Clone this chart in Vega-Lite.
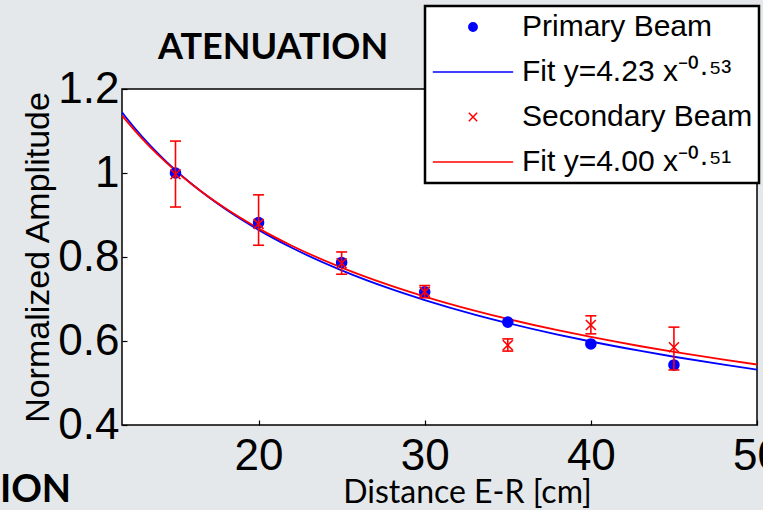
{
  "$schema": "https://vega.github.io/schema/vega-lite/v6.json",
  "width": 635,
  "height": 336,
  "autosize": {"type": "none"},
  "padding": {"left": 122, "top": 89, "right": 6, "bottom": 85},
  "background": "#e4e8ea",
  "title": {
    "text": "ATENUATION",
    "font": "Lato",
    "fontWeight": "bold",
    "fontSize": 36,
    "color": "black",
    "anchor": "start",
    "frame": "group",
    "dx": 36,
    "dy": 122,
    "baseline": "alphabetic",
    "offset": 32
  },
  "datasets": {
    "points": [
      {"series": "Primary Beam", "x": 15, "y": 1.0},
      {"series": "Primary Beam", "x": 20, "y": 0.882},
      {"series": "Primary Beam", "x": 25, "y": 0.787},
      {"series": "Primary Beam", "x": 30, "y": 0.717},
      {"series": "Primary Beam", "x": 35, "y": 0.645},
      {"series": "Primary Beam", "x": 40, "y": 0.593},
      {"series": "Primary Beam", "x": 45, "y": 0.543},
      {"series": "Secondary Beam", "x": 15, "y": 0.997, "lo": 0.919, "hi": 1.076},
      {"series": "Secondary Beam", "x": 20, "y": 0.879, "lo": 0.828, "hi": 0.948},
      {"series": "Secondary Beam", "x": 25, "y": 0.785, "lo": 0.759, "hi": 0.812},
      {"series": "Secondary Beam", "x": 30, "y": 0.717, "lo": 0.703, "hi": 0.732},
      {"series": "Secondary Beam", "x": 35, "y": 0.59, "lo": 0.576, "hi": 0.605},
      {"series": "Secondary Beam", "x": 40, "y": 0.638, "lo": 0.617, "hi": 0.66},
      {"series": "Secondary Beam", "x": 45, "y": 0.585, "lo": 0.531, "hi": 0.633}
    ],
    "curves": [
      {"series": "Fit y=4.23 x\u207B\u2070\u00B7\u2075\u00B3", "x": 11.78, "y": 1.1445},
      {"series": "Fit y=4.23 x\u207B\u2070\u00B7\u2075\u00B3", "x": 12, "y": 1.1334},
      {"series": "Fit y=4.23 x\u207B\u2070\u00B7\u2075\u00B3", "x": 13, "y": 1.0863},
      {"series": "Fit y=4.23 x\u207B\u2070\u00B7\u2075\u00B3", "x": 14, "y": 1.0445},
      {"series": "Fit y=4.23 x\u207B\u2070\u00B7\u2075\u00B3", "x": 15, "y": 1.0069},
      {"series": "Fit y=4.23 x\u207B\u2070\u00B7\u2075\u00B3", "x": 16, "y": 0.9731},
      {"series": "Fit y=4.23 x\u207B\u2070\u00B7\u2075\u00B3", "x": 18, "y": 0.9142},
      {"series": "Fit y=4.23 x\u207B\u2070\u00B7\u2075\u00B3", "x": 20, "y": 0.8646},
      {"series": "Fit y=4.23 x\u207B\u2070\u00B7\u2075\u00B3", "x": 22, "y": 0.822},
      {"series": "Fit y=4.23 x\u207B\u2070\u00B7\u2075\u00B3", "x": 25, "y": 0.7681},
      {"series": "Fit y=4.23 x\u207B\u2070\u00B7\u2075\u00B3", "x": 28, "y": 0.7233},
      {"series": "Fit y=4.23 x\u207B\u2070\u00B7\u2075\u00B3", "x": 30, "y": 0.6974},
      {"series": "Fit y=4.23 x\u207B\u2070\u00B7\u2075\u00B3", "x": 33, "y": 0.663},
      {"series": "Fit y=4.23 x\u207B\u2070\u00B7\u2075\u00B3", "x": 35, "y": 0.6427},
      {"series": "Fit y=4.23 x\u207B\u2070\u00B7\u2075\u00B3", "x": 38, "y": 0.6153},
      {"series": "Fit y=4.23 x\u207B\u2070\u00B7\u2075\u00B3", "x": 40, "y": 0.5988},
      {"series": "Fit y=4.23 x\u207B\u2070\u00B7\u2075\u00B3", "x": 43, "y": 0.5763},
      {"series": "Fit y=4.23 x\u207B\u2070\u00B7\u2075\u00B3", "x": 45, "y": 0.5625},
      {"series": "Fit y=4.23 x\u207B\u2070\u00B7\u2075\u00B3", "x": 48, "y": 0.5436},
      {"series": "Fit y=4.23 x\u207B\u2070\u00B7\u2075\u00B3", "x": 50, "y": 0.532},
      {"series": "Fit y=4.00 x\u207B\u2070\u00B7\u2075\u00B9", "x": 11.78, "y": 1.137},
      {"series": "Fit y=4.00 x\u207B\u2070\u00B7\u2075\u00B9", "x": 12, "y": 1.1264},
      {"series": "Fit y=4.00 x\u207B\u2070\u00B7\u2075\u00B9", "x": 13, "y": 1.0813},
      {"series": "Fit y=4.00 x\u207B\u2070\u00B7\u2075\u00B9", "x": 14, "y": 1.0412},
      {"series": "Fit y=4.00 x\u207B\u2070\u00B7\u2075\u00B9", "x": 15, "y": 1.0052},
      {"series": "Fit y=4.00 x\u207B\u2070\u00B7\u2075\u00B9", "x": 16, "y": 0.9727},
      {"series": "Fit y=4.00 x\u207B\u2070\u00B7\u2075\u00B9", "x": 18, "y": 0.916},
      {"series": "Fit y=4.00 x\u207B\u2070\u00B7\u2075\u00B9", "x": 20, "y": 0.8681},
      {"series": "Fit y=4.00 x\u207B\u2070\u00B7\u2075\u00B9", "x": 22, "y": 0.8269},
      {"series": "Fit y=4.00 x\u207B\u2070\u00B7\u2075\u00B9", "x": 25, "y": 0.7747},
      {"series": "Fit y=4.00 x\u207B\u2070\u00B7\u2075\u00B9", "x": 28, "y": 0.7312},
      {"series": "Fit y=4.00 x\u207B\u2070\u00B7\u2075\u00B9", "x": 30, "y": 0.7059},
      {"series": "Fit y=4.00 x\u207B\u2070\u00B7\u2075\u00B9", "x": 33, "y": 0.6724},
      {"series": "Fit y=4.00 x\u207B\u2070\u00B7\u2075\u00B9", "x": 35, "y": 0.6525},
      {"series": "Fit y=4.00 x\u207B\u2070\u00B7\u2075\u00B9", "x": 38, "y": 0.6257},
      {"series": "Fit y=4.00 x\u207B\u2070\u00B7\u2075\u00B9", "x": 40, "y": 0.6096},
      {"series": "Fit y=4.00 x\u207B\u2070\u00B7\u2075\u00B9", "x": 43, "y": 0.5875},
      {"series": "Fit y=4.00 x\u207B\u2070\u00B7\u2075\u00B9", "x": 45, "y": 0.574},
      {"series": "Fit y=4.00 x\u207B\u2070\u00B7\u2075\u00B9", "x": 48, "y": 0.5554},
      {"series": "Fit y=4.00 x\u207B\u2070\u00B7\u2075\u00B9", "x": 50, "y": 0.544}
    ]
  },
  "layer": [
    {
      "data": {"name": "curves"},
      "mark": {"type": "line", "strokeWidth": 1.8, "clip": true, "interpolate": "monotone"},
      "encoding": {
        "x": {
          "field": "x", "type": "quantitative",
          "scale": {"domain": [11.78, 50], "nice": false, "zero": false},
          "axis": {
            "values": [20, 30, 40, 50],
            "title": "Distance E-R [cm]",
            "titleFont": "Lato", "titleFontSize": 32, "titleFontWeight": "normal", "titleColor": "black",
            "titleX": 345, "titleY": 77, "titleBaseline": "alphabetic",
            "labelFont": "Liberation Sans", "labelFontSize": 44, "labelColor": "black",
            "labelPadding": 14, "labelFlush": false, "labelOverlap": false,
            "tickSize": -5, "tickColor": "black", "tickWidth": 1.2,
            "domain": false, "grid": false
          }
        },
        "y": {
          "field": "y", "type": "quantitative",
          "scale": {"domain": [0.4, 1.2], "nice": false, "zero": false},
          "axis": {
            "values": [0.4, 0.6, 0.8, 1, 1.2],
            "format": "~g",
            "title": "Normalized Amplitude",
            "titleFont": "Liberation Sans", "titleFontSize": 34, "titleFontWeight": "normal", "titleColor": "black",
            "titlePadding": 2,
            "labelFont": "Liberation Sans", "labelFontSize": 44, "labelColor": "black",
            "labelPadding": 8, "labelFlush": false, "labelOverlap": false,
            "tickSize": -5, "tickColor": "black", "tickWidth": 1.2,
            "domain": false, "grid": false
          }
        },
        "color": {
          "field": "series", "type": "nominal",
          "scale": {"domain": ["Fit y=4.23 x\u207B\u2070\u00B7\u2075\u00B3", "Fit y=4.00 x\u207B\u2070\u00B7\u2075\u00B9"], "range": ["#0000ff", "#ff0000"]},
          "legend": null
        }
      }
    },
    {
      "data": {"name": "points"},
      "mark": {"type": "point", "size": 100, "strokeWidth": 1.6, "opacity": 1},
      "encoding": {
        "x": {"field": "x", "type": "quantitative"},
        "y": {"field": "y", "type": "quantitative"},
        "fill": {
          "field": "series", "type": "nominal",
          "scale": {"domain": ["Primary Beam", "Fit y=4.23 x\u207B\u2070\u00B7\u2075\u00B3", "Secondary Beam", "Fit y=4.00 x\u207B\u2070\u00B7\u2075\u00B9"], "range": ["#0000ff", "transparent", "transparent", "transparent"]},
          "legend": {"title": null, "orient": "none", "legendX": 303, "legendY": -83}
        },
        "stroke": {
          "field": "series", "type": "nominal",
          "scale": {"domain": ["Primary Beam", "Fit y=4.23 x\u207B\u2070\u00B7\u2075\u00B3", "Secondary Beam", "Fit y=4.00 x\u207B\u2070\u00B7\u2075\u00B9"], "range": ["#0000ff", "#0000ff", "#ff0000", "#ff0000"]},
          "legend": {"title": null, "orient": "none", "legendX": 303, "legendY": -83}
        },
        "shape": {
          "field": "series", "type": "nominal",
          "scale": {"domain": ["Primary Beam", "Fit y=4.23 x\u207B\u2070\u00B7\u2075\u00B3", "Secondary Beam", "Fit y=4.00 x\u207B\u2070\u00B7\u2075\u00B9"], "range": ["circle", "M-9.6,0L9.6,0", "M-1,-1L1,1M-1,1L1,-1", "M-9.6,0L9.6,0"]},
          "legend": {"title": null, "orient": "none", "legendX": 303, "legendY": -83}
        }
      }
    },
    {
      "data": {"name": "points"},
      "transform": [{"filter": "datum.series === 'Secondary Beam'"}],
      "mark": {"type": "rule", "color": "#ff0000", "strokeWidth": 1.6},
      "encoding": {
        "x": {"field": "x", "type": "quantitative"},
        "y": {"field": "lo", "type": "quantitative"},
        "y2": {"field": "hi"}
      }
    },
    {
      "data": {"name": "points"},
      "transform": [{"filter": "datum.series === 'Secondary Beam'"}],
      "mark": {"type": "tick", "color": "#ff0000", "orient": "horizontal", "size": 11, "thickness": 1.6, "opacity": 1},
      "encoding": {
        "x": {"field": "x", "type": "quantitative"},
        "y": {"field": "lo", "type": "quantitative"}
      }
    },
    {
      "data": {"name": "points"},
      "transform": [{"filter": "datum.series === 'Secondary Beam'"}],
      "mark": {"type": "tick", "color": "#ff0000", "orient": "horizontal", "size": 11, "thickness": 1.6, "opacity": 1},
      "encoding": {
        "x": {"field": "x", "type": "quantitative"},
        "y": {"field": "hi", "type": "quantitative"}
      }
    },
    {
      "data": {"values": [{"label": "ION"}]},
      "mark": {"type": "text", "font": "Lato", "fontWeight": "bold", "fontSize": 38, "align": "left", "baseline": "alphabetic", "color": "black", "clip": false},
      "encoding": {
        "x": {"datum": 4.43, "type": "quantitative"},
        "y": {"datum": 0.2167, "type": "quantitative"},
        "text": {"field": "label"}
      }
    }
  ],
  "config": {
    "view": {"fill": "white", "stroke": "black", "strokeWidth": 1.5},
    "legend": {
      "labelFont": "Liberation Sans",
      "labelFontSize": 30,
      "labelColor": "black",
      "labelLimit": 400,
      "symbolSize": 70,
      "symbolStrokeWidth": 1.5,
      "symbolOffset": 27,
      "labelOffset": 34,
      "rowPadding": 15,
      "padding": 6,
      "fillColor": "white",
      "strokeColor": "black",
      "strokeWidth": 2.5
    }
  }
}
